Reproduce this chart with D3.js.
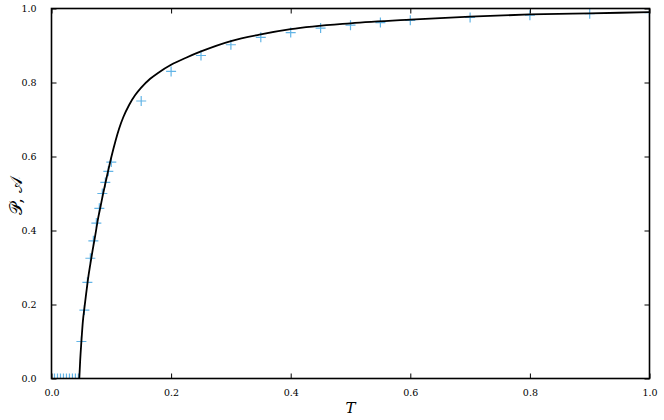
<!DOCTYPE html>
<html>
<head>
<meta charset="utf-8">
<script src="https://cdn.jsdelivr.net/npm/d3@7"></script>
<style>
  body { margin: 0; background: #fff; }
  svg { display: block; }
  text { font-family: "DejaVu Serif", "Liberation Serif", serif; }
</style>
</head>
<body>
<svg width="664" height="420"></svg>
<script>
// simulation points (crosses)
var crossT = [0.005, 0.01, 0.015, 0.02, 0.025, 0.03, 0.035, 0.04, 0.045,
   0.05, 0.055, 0.06, 0.065, 0.07, 0.075, 0.08, 0.085, 0.09, 0.095, 0.1,
   0.15, 0.2, 0.25, 0.3, 0.35, 0.4, 0.45, 0.5, 0.55, 0.6, 0.7, 0.8, 0.9, 1.0];
var crossA = [0, 0, 0, 0, 0, 0, 0, 0, 0,
   0.10, 0.185, 0.26, 0.325, 0.372, 0.42, 0.46, 0.50, 0.53, 0.56, 0.585,
   0.75, 0.83, 0.873, 0.902, 0.922, 0.935, 0.947, 0.955, 0.962, 0.968, 0.976, 0.982, 0.986, 0.989];

// theory curve (black line)
var curveT = [0.0465, 0.048, 0.05, 0.0525, 0.055, 0.058, 0.061, 0.065, 0.069, 0.0735,
   0.0776, 0.082, 0.086, 0.09, 0.094, 0.1, 0.107, 0.113, 0.12, 0.13, 0.14, 0.15,
   0.165, 0.18, 0.2, 0.225, 0.25, 0.3, 0.35, 0.4, 0.5, 0.6, 0.7, 0.8, 0.9, 1.0];
var curveP = [0, 0.05, 0.10, 0.155, 0.19, 0.23, 0.268, 0.31, 0.349, 0.39,
   0.43, 0.465, 0.497, 0.527, 0.556, 0.598, 0.642, 0.675, 0.706, 0.740, 0.766, 0.786,
   0.810, 0.828, 0.848, 0.867, 0.884, 0.912, 0.930, 0.944, 0.960, 0.970, 0.978, 0.984, 0.987, 0.990];

var xTicks = [0, 0.2, 0.4, 0.6, 0.8, 1.0];
var yTicks = [0, 0.2, 0.4, 0.6, 0.8, 1.0];

var pLeft = 51.5, pRight = 649.5, pTop = 8.5, pBottom = 378.5;

var svg = d3.select("svg");
var x = d3.scaleLinear().domain([0, 1]).range([pLeft, pRight]);
var y = d3.scaleLinear().domain([0, 1]).range([pBottom, pTop]);

svg.append("clipPath").attr("id", "clip")
   .append("rect")
   .attr("x", pLeft).attr("y", pTop)
   .attr("width", pRight - pLeft).attr("height", pBottom - pTop);

var plot = svg.append("g").attr("clip-path", "url(#clip)");

// crosses
var cr = 5;
var crosses = plot.append("g")
   .attr("stroke", "#62b4e6")
   .attr("stroke-width", 1.2)
   .selectAll("g")
   .data(crossT.map(function(t, i) { return {t: t, a: crossA[i]}; }))
   .enter().append("g")
   .attr("transform", function(d) {
      return "translate(" + x(d.t) + "," + y(d.a) + ")";
   });
crosses.append("line").attr("x1", -cr).attr("x2", cr).attr("y1", 0).attr("y2", 0);
crosses.append("line").attr("x1", 0).attr("x2", 0).attr("y1", -cr).attr("y2", cr);

// curve
var line = d3.line()
   .x(function(d) { return x(d[0]); })
   .y(function(d) { return y(d[1]); })
   .curve(d3.curveMonotoneX);

plot.append("path")
   .datum(curveT.map(function(t, i) { return [t, curveP[i]]; }))
   .attr("fill", "none")
   .attr("stroke", "#000")
   .attr("stroke-width", 1.8)
   .attr("d", line);

// axes (ticks inward on all four sides)
var fmt = d3.format(".1f");
var tickLen = 5;

svg.append("g")
   .attr("transform", "translate(0," + pBottom + ")")
   .call(d3.axisBottom(x).tickValues(xTicks).tickFormat(fmt).tickSizeInner(-tickLen).tickSizeOuter(0).tickPadding(11))
   .call(styleAxis);

svg.append("g")
   .attr("transform", "translate(0," + pTop + ")")
   .call(d3.axisTop(x).tickValues(xTicks).tickFormat("").tickSizeInner(-tickLen).tickSizeOuter(0))
   .call(styleAxis);

svg.append("g")
   .attr("transform", "translate(" + pLeft + ",0)")
   .call(d3.axisLeft(y).tickValues(yTicks).tickFormat(fmt).tickSizeInner(-tickLen).tickSizeOuter(0).tickPadding(15))
   .call(styleAxis);

svg.append("g")
   .attr("transform", "translate(" + pRight + ",0)")
   .call(d3.axisRight(y).tickValues(yTicks).tickFormat("").tickSizeInner(-tickLen).tickSizeOuter(0))
   .call(styleAxis);

function styleAxis(g) {
   g.select(".domain").remove();
   g.selectAll(".tick line").attr("stroke", "#000").attr("stroke-width", 1);
   g.selectAll(".tick text")
      .attr("fill", "#000")
      .style("font-family", "'DejaVu Serif', serif")
      .style("font-size", "9.5px");
}

// frame
svg.append("rect")
   .attr("x", pLeft).attr("y", pTop)
   .attr("width", pRight - pLeft).attr("height", pBottom - pTop)
   .attr("fill", "none")
   .attr("stroke", "#000")
   .attr("stroke-width", 1.6);

// axis labels
svg.append("text")
   .attr("x", (pLeft + pRight) / 2)
   .attr("y", 413)
   .attr("text-anchor", "middle")
   .style("font-family", "'DejaVu Serif', serif")
   .style("font-style", "italic")
   .style("font-size", "15px")
   .text("T");

svg.append("text")
   .attr("transform", "translate(22," + 196 + ") rotate(-90)")
   .attr("text-anchor", "middle")
   .style("font-family", "'DejaVu Serif', serif")
   .style("font-size", "17px")
   .text("\uD835\uDCAB, \uD835\uDC9C");
</script>
</body>
</html>
